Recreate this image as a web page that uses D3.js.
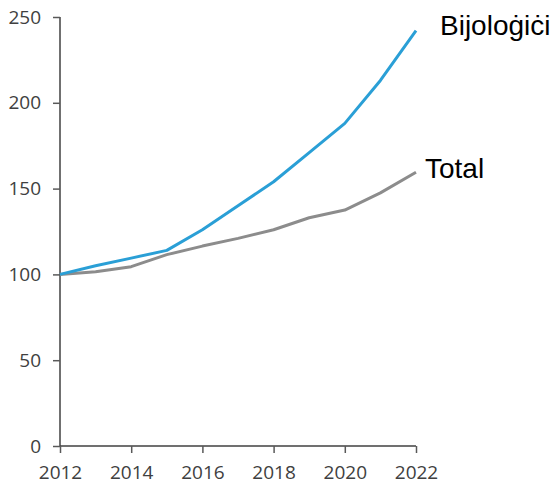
<!DOCTYPE html>
<html><head><meta charset="utf-8">
<script src="https://cdn.jsdelivr.net/npm/d3@7"></script>
<style>body{margin:0;background:#fff}</style>
</head><body><svg id="c" width="557" height="487"></svg>
<script>
const years = [2012,2013,2014,2015,2016,2017,2018,2019,2020,2021,2022];
const biologics = [100,105,109.5,114,126,140,154,171,188,213,242];
const total = [100,101.5,104.5,111.5,116.5,121,126,133,137.5,147.5,159.5];
const yTicks = [0,50,100,150,200,250];
const xTicks = [2012,2014,2016,2018,2020,2022];
const seriesNames = ["Bijoloġiċi","Total"];

const svg = d3.select("#c");
const x = d3.scaleLinear().domain([2012,2022]).range([60,416]);
const y = d3.scaleLinear().domain([0,250]).range([446,17]);

const tickFont = "'Open Sans', sans-serif";
const yAxis = svg.append("g").attr("transform","translate(60,0)")
  .call(d3.axisLeft(y).tickValues(yTicks).tickSize(7).tickPadding(12).tickFormat(d3.format("d")));
const xAxis = svg.append("g").attr("transform","translate(0,446)")
  .call(d3.axisBottom(x).tickValues(xTicks).tickSize(7).tickPadding(13).tickFormat(d3.format("d")));
[yAxis,xAxis].forEach(a=>{
  a.select(".domain").attr("stroke","#404040").attr("stroke-width",1.5);
  a.selectAll(".tick line").attr("stroke","#595959").attr("stroke-width",1.5);
  a.selectAll("text").attr("fill","#404040").style("font-family",tickFont).style("font-size","19px");
});
yAxis.select(".domain").attr("d","M0,17V446");
xAxis.select(".domain").attr("d","M60,0H416");

const line = d3.line().x((d,i)=>x(years[i])).y(d=>y(d));
svg.append("path").datum(total).attr("d",line).attr("fill","none")
  .attr("stroke","#8c8c8c").attr("stroke-width",3).attr("stroke-linejoin","round");
svg.append("path").datum(biologics).attr("d",line).attr("fill","none")
  .attr("stroke","#2a9fd6").attr("stroke-width",3).attr("stroke-linejoin","round");

svg.append("text").attr("x",440).attr("y",35).text(seriesNames[0])
  .style("font-family","'Liberation Sans', Arial, sans-serif").style("font-size","28px").attr("fill","#000");
svg.append("text").attr("x",425).attr("y",178).text(seriesNames[1])
  .style("font-family","'Liberation Sans', Arial, sans-serif").style("font-size","28px").attr("fill","#000");
</script></body></html>
